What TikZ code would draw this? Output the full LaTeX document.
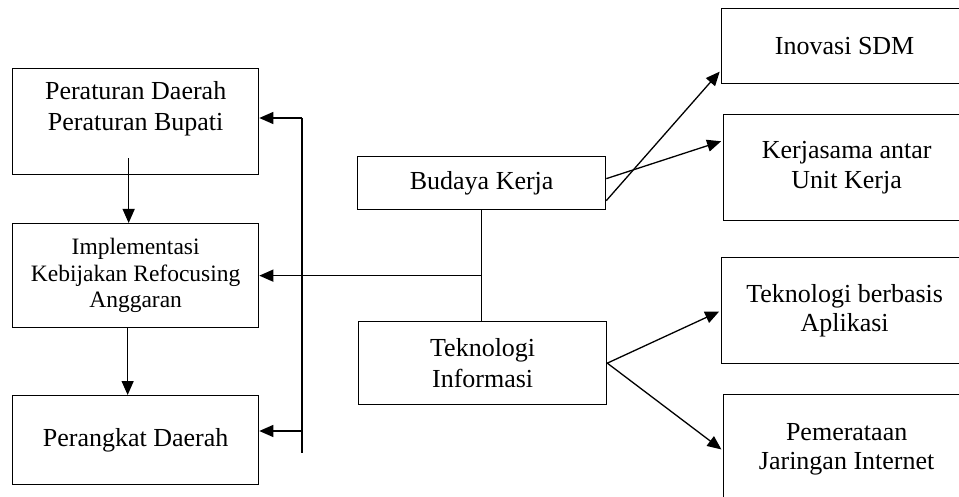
\documentclass[tikz,border=0pt]{standalone}
\usepackage{fontspec}
\setmainfont{Liberation Serif}
\usetikzlibrary{arrows.meta}
\begin{document}
\begin{tikzpicture}[x=1pt,y=-1pt,line width=1.3pt,
  box/.style={draw, align=center, inner sep=0pt, anchor=north west, font=\fontsize{26}{31}\selectfont},
  >={Triangle[length=14pt,width=12pt]}]
\clip (0,0) rectangle (959,497);
% left column
\node[box, minimum width=246pt, minimum height=106pt] (perda) at (12,68) {Peraturan Daerah\\Peraturan Bupati\\\mbox{}};
\node[box, minimum width=246pt, minimum height=104pt, font=\fontsize{23.5}{26.5}\selectfont] (impl) at (12,223) {Implementasi\\Kebijakan Refocusing\\Anggaran};
\node[box, minimum width=246pt, minimum height=89pt] (opd) at (12,395) {Perangkat Daerah};
\draw[->] ([xshift=-7pt,yshift=17pt]perda.south) -- ([xshift=-7pt]impl.north);
\draw[->] ([xshift=-8pt]impl.south) -- ([xshift=-8pt]opd.north);
% middle
\node[box, minimum width=248pt, minimum height=53pt] (budaya) at (357,156) {Budaya Kerja};
\node[box, minimum width=248pt, minimum height=83pt] (tik) at (358,321) {Teknologi\\Informasi};
\coordinate (hub) at (budaya.south |- impl.east);
\draw (budaya.south) -- (budaya.south |- tik.north);
\draw[->] (hub) -- (impl.east);
% bus to the left column
\coordinate (bustop) at (302,118);
\coordinate (busopd) at (302,431);
\coordinate (busbot) at (302,453);
\draw (bustop) -- (busbot);
\draw[->] (bustop) -- (bustop -| perda.east);
\draw[->] (busopd) -- (busopd -| opd.east);
% right column
\node[box, minimum width=246pt, minimum height=75pt] (inovasi) at (721,8) {Inovasi SDM};
\node[box, minimum width=246pt, minimum height=106pt, font=\fontsize{26}{30}\selectfont] (kerjasama) at (723,114) {Kerjasama antar\\Unit Kerja};
\node[box, minimum width=246pt, minimum height=106pt, font=\fontsize{26}{29}\selectfont] (aplikasi) at (721,257) {Teknologi berbasis\\Aplikasi};
\node[box, minimum width=246pt, minimum height=110pt, font=\fontsize{26}{29}\selectfont] (internet) at (723,394) {Pemerataan\\Jaringan Internet};
\draw[->, shorten >=2pt] ([yshift=-17.5pt]budaya.east) -- ([yshift=-24pt]inovasi.west);
\draw[->, shorten >=2pt] ([yshift=4.5pt]budaya.east) -- ([yshift=27pt]kerjasama.west);
\draw[->, shorten >=2pt] (tik.east) -- (aplikasi.west);
\draw[->, shorten >=2pt] (tik.east) -- ([yshift=-1pt]internet.west);
\end{tikzpicture}
\end{document}
